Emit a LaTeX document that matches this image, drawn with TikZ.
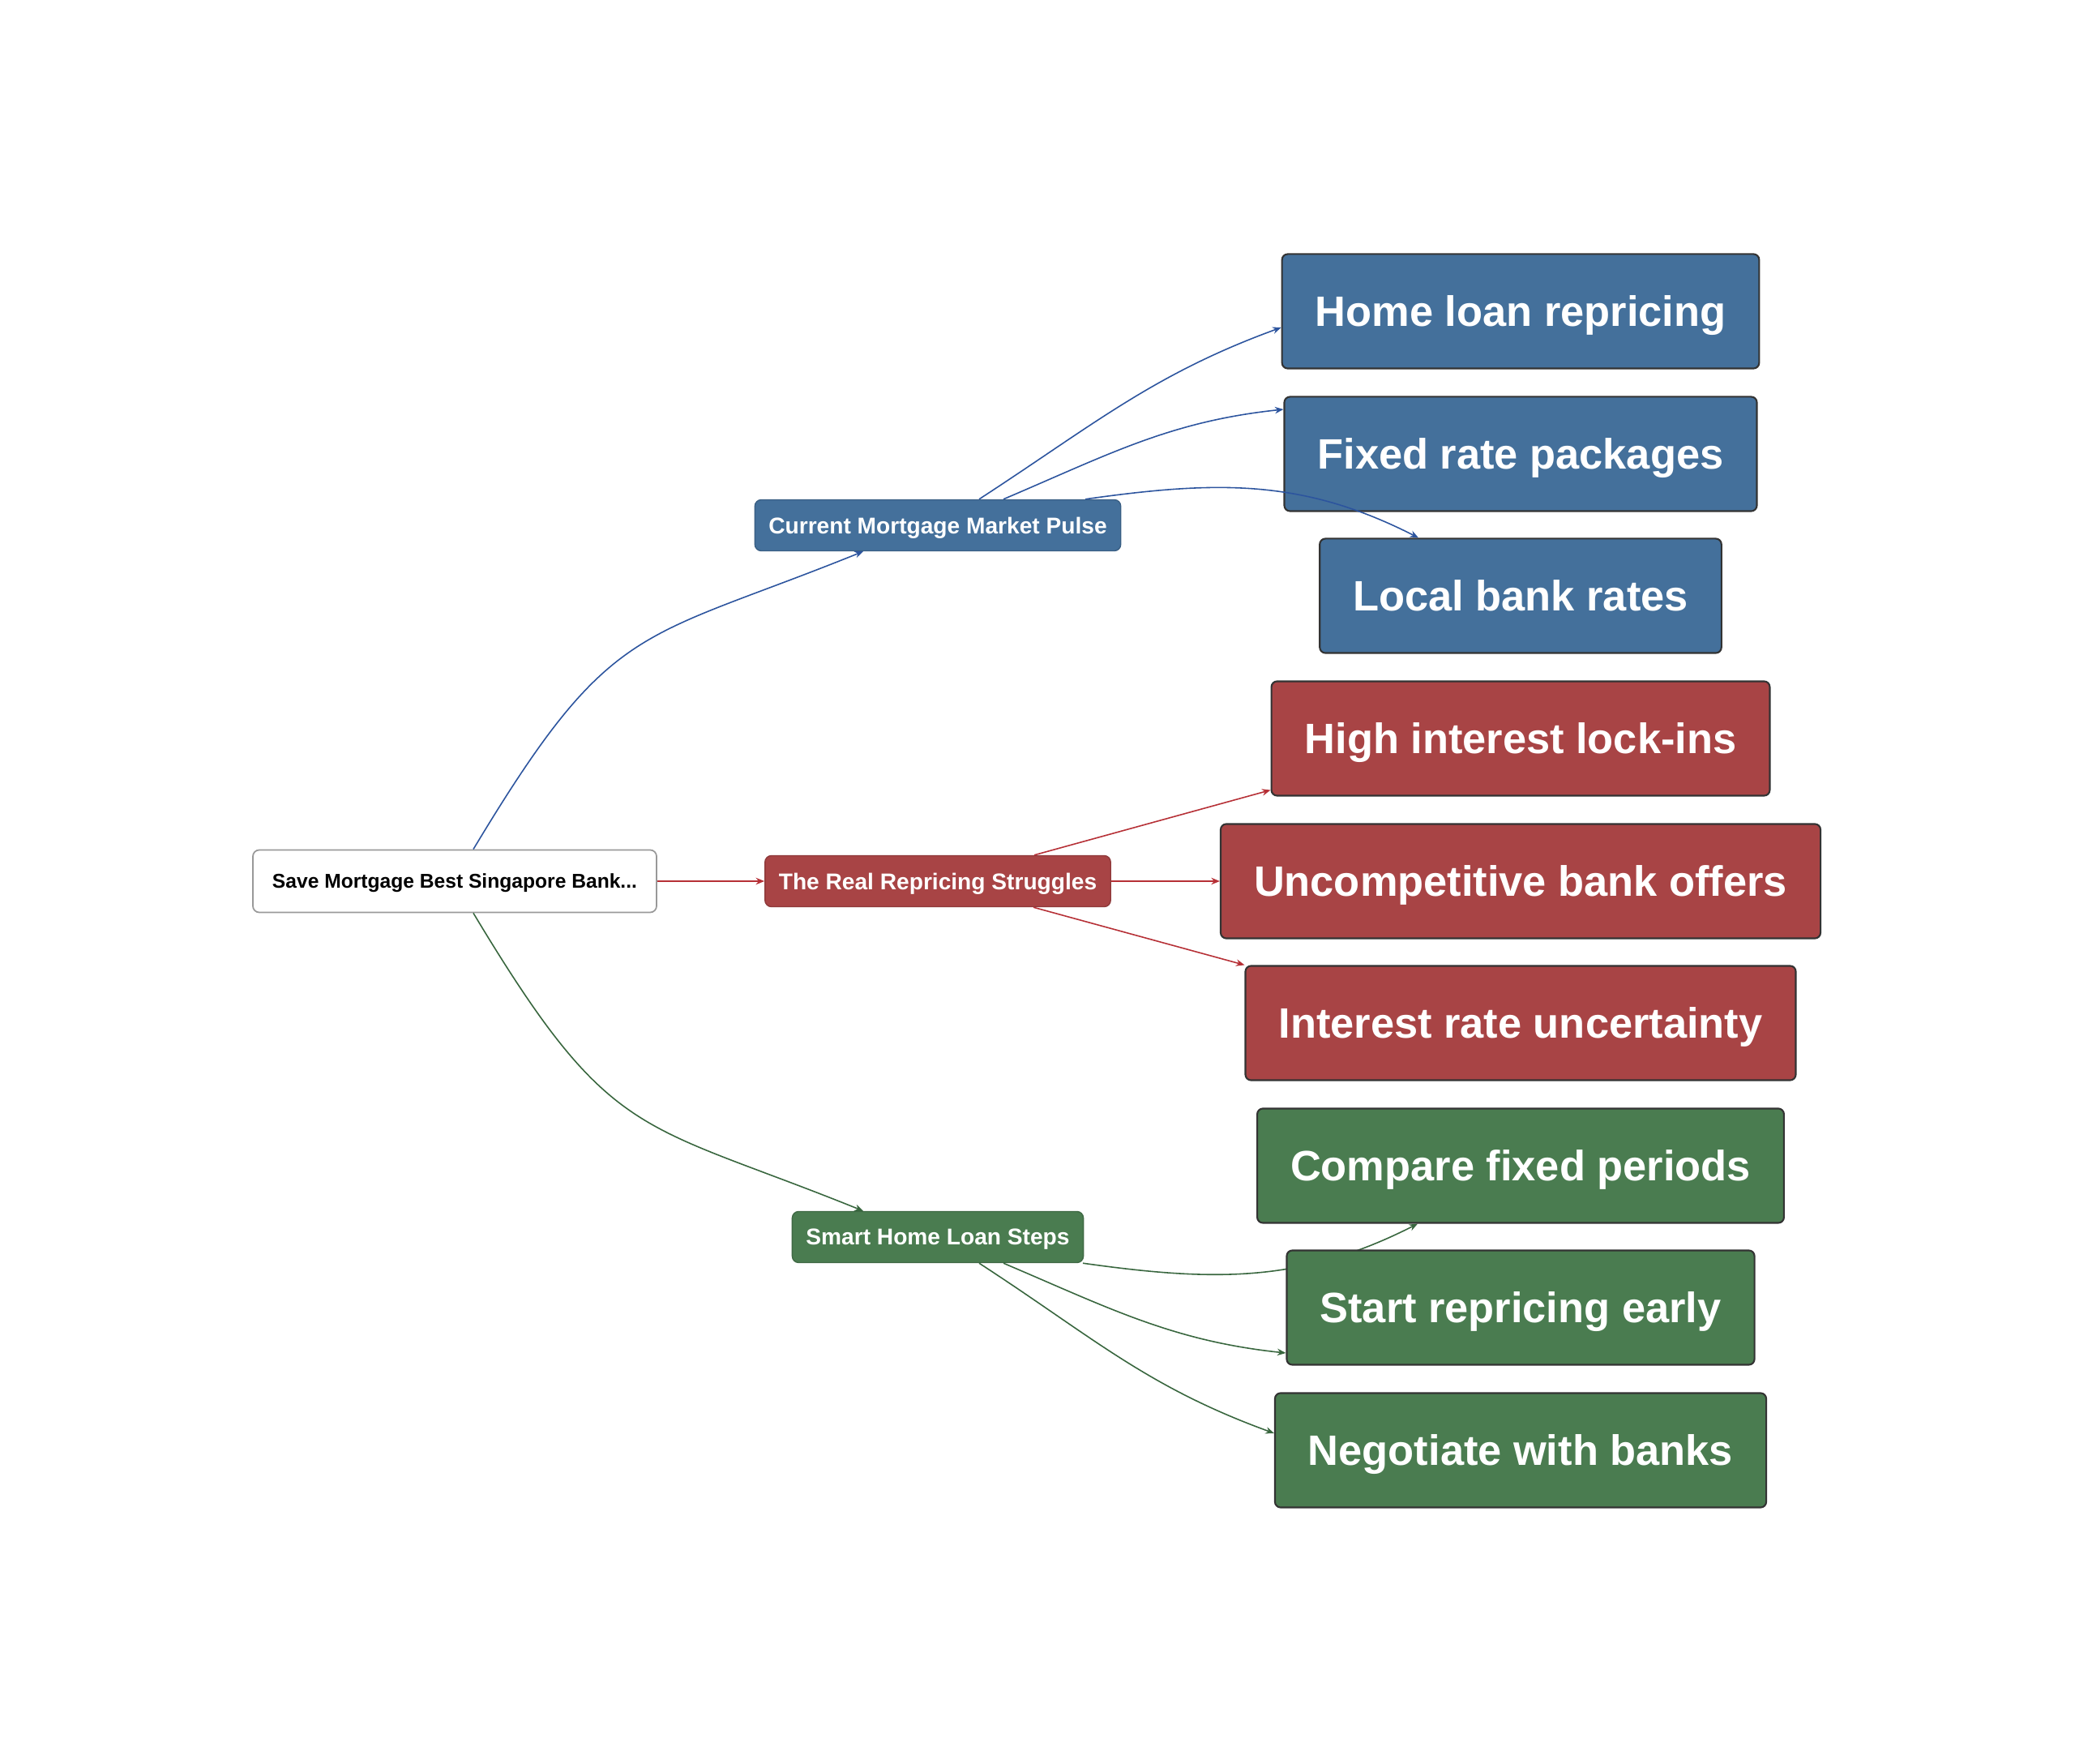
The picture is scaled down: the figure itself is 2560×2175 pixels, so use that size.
\documentclass[tikz,border=0pt]{standalone}
\usepackage{fontspec}
\setmainfont{Liberation Sans}
\usepackage{tikz}
\usetikzlibrary{arrows.meta,calc,backgrounds}
\definecolor{pulseblue}{RGB}{68,112,155}
\definecolor{strugred}{RGB}{168,68,69}
\definecolor{stepgreen}{RGB}{74,124,80}
\definecolor{blueline}{RGB}{44,84,158}
\definecolor{redline}{RGB}{182,48,54}
\definecolor{greenline}{RGB}{56,102,62}
\tikzstyle{rootbox}=[draw=black!40,fill=white,rounded corners=0.08cm,line width=0.5pt,minimum height=0.77cm,inner xsep=0.24cm,text depth=0pt,font=\fontsize{7}{8}\selectfont\bfseries]
\tikzstyle{midbox}=[rounded corners=0.08cm,minimum height=0.63cm,inner xsep=0.17cm,text depth=0pt,text=white,font=\fontsize{8}{9.5}\selectfont\bfseries]
\tikzstyle{leafbox}=[draw=black!80,line width=0.6pt,rounded corners=0.07cm,minimum height=1.41cm,inner xsep=0.41cm,text depth=0pt,text=white,font=\fontsize{14.9}{17}\selectfont\bfseries]
\tikzstyle{link}=[line width=0.45pt,-{Stealth[length=3pt,width=2.4pt]}]

\begin{document}
\begin{tikzpicture}[x=0.01cm,y=0.01cm]
    \useasboundingbox (0,0) rectangle (2560,2175);
    % root and the three branches
    \node [rootbox] (root) at (561,1088) {Save Mortgage Best Singapore Bank...};
    \node [midbox,fill=pulseblue,draw=pulseblue!85!black] (pulse) at (1157,1527) {Current Mortgage Market Pulse};
    \node [midbox,fill=strugred,draw=strugred!85!black] (struggle) at (1157,1088) {The Real Repricing Struggles};
    \node [midbox,fill=stepgreen,draw=stepgreen!85!black] (steps) at (1157,649) {Smart Home Loan Steps};
    % leaves
    \node [leafbox,fill=pulseblue] (home) at (1876,1791) {Home loan repricing};
    \node [leafbox,fill=pulseblue] (fixed) at (1876,1615) {Fixed rate packages};
    \node [leafbox,fill=pulseblue] (local) at (1876,1440) {Local bank rates};
    \node [leafbox,fill=strugred] (lockin) at (1876,1264) {High interest lock-ins};
    \node [leafbox,fill=strugred] (offers) at (1876,1088) {Uncompetitive bank offers};
    \node [leafbox,fill=strugred] (uncert) at (1876,913) {Interest rate uncertainty};
    \node [leafbox,fill=stepgreen] (compare) at (1876,737) {Compare fixed periods};
    \node [leafbox,fill=stepgreen] (early) at (1876,562) {Start repricing early};
    \node [leafbox,fill=stepgreen] (negot) at (1876,386) {Negotiate with banks};

    \draw [link,blueline] ($(root.north)+(23,0)$) .. controls +(59:332) and +(202:301) .. ($(pulse.south)+(-92,0)$);
    \draw [link,redline] (root.east) -- (struggle.west);
    \draw [link,greenline] ($(root.south)+(23,0)$) .. controls +(-59:332) and +(158:301) .. ($(steps.north)+(-92,0)$);

    \draw [link,blueline] ($(pulse.north)+(51,0)$) .. controls +(33:168) and +(200:168) .. ($(home.west)+(0,-20)$);
    \draw [link,blueline] ($(pulse.north)+(81,0)$) .. controls +(23:141) and +(186:141) .. ($(fixed.west)+(0,55)$);
    \draw [link,blueline] ($(pulse.north)+(182,0)$) .. controls +(8:162) and +(153:162) .. ($(local.north)+(-126,0)$);

    \draw [link,redline] ($(struggle.north)+(119,0)$) -- ($(lockin.south west)+(0,8)$);
    \draw [link,redline] (struggle.east) -- (offers.west);
    \draw [link,redline] ($(struggle.south)+(118,0)$) -- (uncert.north west);

    \begin{pgfonlayer}{background}
      \draw [link,greenline] ($(steps.south)+(179,0)$) .. controls +(-8:162) and +(207:162) .. ($(compare.south)+(-127,0)$);
    \end{pgfonlayer}
    \draw [link,greenline] ($(steps.south)+(81,0)$) .. controls +(-23:141) and +(174:141) .. ($(early.west)+(0,-56)$);
    \draw [link,greenline] ($(steps.south)+(51,0)$) .. controls +(-33:168) and +(160:168) .. ($(negot.west)+(0,21)$);
\end{tikzpicture}
\end{document}
